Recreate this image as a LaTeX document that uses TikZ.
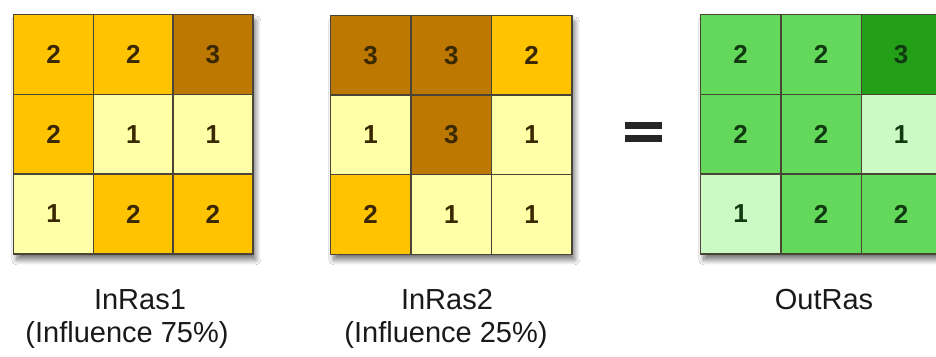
\documentclass[tikz,border=0pt]{standalone}
\usepackage{fontspec}
\setmainfont{Liberation Sans}
\usetikzlibrary{shadows.blur}
\definecolor{yA}{HTML}{FFFFA8}
\definecolor{yB}{HTML}{FFC300}
\definecolor{yC}{HTML}{BC7800}
\definecolor{gA}{HTML}{CCFAC4}
\definecolor{gB}{HTML}{64D85A}
\definecolor{gC}{HTML}{24A018}
\definecolor{gridline}{HTML}{4A4436}
\definecolor{ytext}{HTML}{3A2800}
\definecolor{gtext}{HTML}{103A10}
\tikzset{
  cellbox/.style={draw=gridline, line width=1.3pt, minimum width=80pt, minimum height=80pt, inner sep=0pt, anchor=north west,
    font=\fontsize{26}{26}\selectfont\bfseries},
  ycell/.style={cellbox, text=ytext},
  gcell/.style={cellbox, text=gtext},
  gridframe/.style={draw=gridline, line width=1.6pt, fill=white,
    blur shadow={shadow xshift=3pt, shadow yshift=-6pt, shadow blur radius=5pt, shadow opacity=55, shadow blur steps=12}},
  lbl/.style={font=\fontsize{29}{29}\selectfont, text=black!90, inner sep=0pt}
}
\begin{document}
\begin{tikzpicture}[x=1pt,y=-1pt]
\useasboundingbox (0,0) rectangle (936,356);
\fill[white] (0,0) rectangle (936,356);
% frames with shadows
\node[gridframe, minimum width=239pt, minimum height=239pt, inner sep=0pt, anchor=north west] (f1) at (13,14) {};
\node[gridframe, minimum width=241pt, minimum height=238pt, inner sep=0pt, anchor=north west] (f2) at (330,15) {};
\node[gridframe, minimum width=240pt, minimum height=239pt, inner sep=0pt, anchor=north west] (f3) at (700,14) {};
% grid 1
\node[ycell, fill=yB] (a11) at (13,14) {2};
\node[ycell, fill=yB] (a12) at (92.7,14) {2};
\node[ycell, fill=yC] (a13) at (172.3,14) {3};
\node[ycell, fill=yB] (a21) at (13,93.7) {2};
\node[ycell, fill=yA] (a22) at (92.7,93.7) {1};
\node[ycell, fill=yA] (a23) at (172.3,93.7) {1};
\node[ycell, fill=yA] (a31) at (13,173.3) {1};
\node[ycell, fill=yB] (a32) at (92.7,173.3) {2};
\node[ycell, fill=yB] (a33) at (172.3,173.3) {2};
% grid 2
\node[ycell, fill=yC] (b11) at (330,15) {3};
\node[ycell, fill=yC] (b12) at (410.7,15) {3};
\node[ycell, fill=yB] (b13) at (491,15) {2};
\node[ycell, fill=yA] (b21) at (330,94.3) {1};
\node[ycell, fill=yC] (b22) at (410.7,94.3) {3};
\node[ycell, fill=yA] (b23) at (491,94.3) {1};
\node[ycell, fill=yB] (b31) at (330,173.7) {2};
\node[ycell, fill=yA] (b32) at (410.7,173.7) {1};
\node[ycell, fill=yA] (b33) at (491,173.7) {1};
% grid 3
\node[gcell, fill=gB] (c11) at (700,14) {2};
\node[gcell, fill=gB] (c12) at (780.5,14) {2};
\node[gcell, fill=gC] (c13) at (860.5,14) {3};
\node[gcell, fill=gB] (c21) at (700,93.7) {2};
\node[gcell, fill=gB] (c22) at (780.5,93.7) {2};
\node[gcell, fill=gA] (c23) at (860.5,93.7) {1};
\node[gcell, fill=gA] (c31) at (700,173.3) {1};
\node[gcell, fill=gB] (c32) at (780.5,173.3) {2};
\node[gcell, fill=gB] (c33) at (860.5,173.3) {2};
% equals sign
\fill[black!85] (625,122) rectangle (662,128.5);
\fill[black!85] (625,135) rectangle (662,141.5);
% labels
\node[lbl] (l1) at (140,300) {InRas1};
\node[lbl] (l1b) at (127,335) {(Influence 75\%)};
\node[lbl] (l2) at (447,300) {InRas2};
\node[lbl] (l2b) at (446,335) {(Influence 25\%)};
\node[lbl] (l3) at (824,300) {OutRas};
\end{tikzpicture}
\end{document}
